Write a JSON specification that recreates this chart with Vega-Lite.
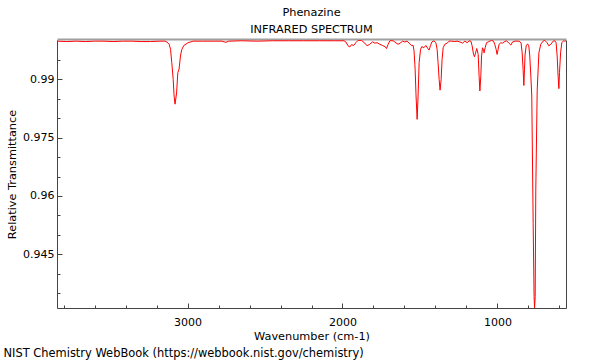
{
  "$schema": "https://vega.github.io/schema/vega-lite/v6.json",
  "width": 509,
  "height": 268,
  "autosize": "none",
  "padding": {"left": 57, "top": 40, "right": 34, "bottom": 52},
  "title": {
    "text": "Phenazine",
    "subtitle": "INFRARED SPECTRUM",
    "font": "DejaVu Sans",
    "fontSize": 11.3,
    "fontWeight": "normal",
    "color": "black",
    "subtitleFont": "DejaVu Sans",
    "subtitleFontSize": 11.3,
    "subtitleColor": "black",
    "anchor": "middle",
    "offset": 4,
    "subtitlePadding": 5
  },
  "config": {
    "view": {"stroke": null},
    "axis": {
      "labelFont": "DejaVu Sans",
      "labelFontSize": 11,
      "labelColor": "black",
      "titleFont": "DejaVu Sans",
      "titleFontSize": 11.3,
      "titleFontWeight": "normal",
      "titleColor": "black",
      "domainColor": "#444",
      "tickColor": "#444",
      "grid": false
    }
  },
  "data": {
    "values": [
      {"wn": 3843, "t": 0.9998}, {"wn": 3780, "t": 0.9997}, {"wn": 3720, "t": 0.9998}, {"wn": 3660, "t": 0.9997},
      {"wn": 3600, "t": 0.9998}, {"wn": 3540, "t": 0.9998}, {"wn": 3480, "t": 0.9997}, {"wn": 3420, "t": 0.9998},
      {"wn": 3360, "t": 0.9998}, {"wn": 3300, "t": 0.9997}, {"wn": 3240, "t": 0.9997}, {"wn": 3179, "t": 0.9998},
      {"wn": 3147, "t": 0.9998}, {"wn": 3134, "t": 0.9996}, {"wn": 3119, "t": 0.9990}, {"wn": 3110, "t": 0.9977},
      {"wn": 3102, "t": 0.9943}, {"wn": 3093, "t": 0.9900}, {"wn": 3087, "t": 0.9857}, {"wn": 3081, "t": 0.9836},
      {"wn": 3071, "t": 0.9865}, {"wn": 3063, "t": 0.9917}, {"wn": 3055, "t": 0.9926}, {"wn": 3046, "t": 0.9960},
      {"wn": 3037, "t": 0.9977}, {"wn": 3024, "t": 0.9987}, {"wn": 2997, "t": 0.9994}, {"wn": 2964, "t": 0.9998},
      {"wn": 2902, "t": 0.9998}, {"wn": 2824, "t": 0.9998}, {"wn": 2779, "t": 0.9998}, {"wn": 2753, "t": 0.9995},
      {"wn": 2734, "t": 0.9998}, {"wn": 2650, "t": 0.9999}, {"wn": 2550, "t": 0.9998}, {"wn": 2450, "t": 0.9999},
      {"wn": 2350, "t": 0.9999}, {"wn": 2250, "t": 0.9999}, {"wn": 2150, "t": 0.9999}, {"wn": 2050, "t": 0.9999},
      {"wn": 1990, "t": 0.9999}, {"wn": 1978, "t": 0.9996}, {"wn": 1964, "t": 0.9986}, {"wn": 1953, "t": 0.9983},
      {"wn": 1942, "t": 0.9989}, {"wn": 1927, "t": 0.9987}, {"wn": 1914, "t": 0.9994}, {"wn": 1899, "t": 1.0000},
      {"wn": 1877, "t": 1.0000}, {"wn": 1856, "t": 0.9993}, {"wn": 1841, "t": 0.9986}, {"wn": 1824, "t": 0.9990},
      {"wn": 1806, "t": 0.9996}, {"wn": 1791, "t": 0.9993}, {"wn": 1776, "t": 0.9994}, {"wn": 1759, "t": 0.9990},
      {"wn": 1742, "t": 0.9987}, {"wn": 1725, "t": 0.9984}, {"wn": 1716, "t": 0.9979}, {"wn": 1705, "t": 0.9990},
      {"wn": 1694, "t": 0.9999}, {"wn": 1673, "t": 0.9999}, {"wn": 1656, "t": 0.9994}, {"wn": 1641, "t": 0.9990},
      {"wn": 1628, "t": 0.9993}, {"wn": 1612, "t": 0.9998}, {"wn": 1598, "t": 0.9996}, {"wn": 1583, "t": 0.9998},
      {"wn": 1570, "t": 0.9993}, {"wn": 1554, "t": 0.9987}, {"wn": 1544, "t": 0.9987}, {"wn": 1538, "t": 0.9973},
      {"wn": 1531, "t": 0.9926}, {"wn": 1525, "t": 0.9857}, {"wn": 1518, "t": 0.9797}, {"wn": 1512, "t": 0.9857},
      {"wn": 1505, "t": 0.9943}, {"wn": 1496, "t": 0.9977}, {"wn": 1488, "t": 0.9984}, {"wn": 1475, "t": 0.9981},
      {"wn": 1462, "t": 0.9987}, {"wn": 1449, "t": 0.9979}, {"wn": 1441, "t": 0.9975}, {"wn": 1432, "t": 0.9986},
      {"wn": 1423, "t": 0.9996}, {"wn": 1410, "t": 0.9999}, {"wn": 1397, "t": 0.9994}, {"wn": 1389, "t": 0.9977},
      {"wn": 1383, "t": 0.9943}, {"wn": 1376, "t": 0.9900}, {"wn": 1370, "t": 0.9872}, {"wn": 1363, "t": 0.9900},
      {"wn": 1357, "t": 0.9951}, {"wn": 1350, "t": 0.9981}, {"wn": 1339, "t": 0.9990}, {"wn": 1324, "t": 0.9993},
      {"wn": 1312, "t": 0.9998}, {"wn": 1296, "t": 0.9998}, {"wn": 1275, "t": 0.9997}, {"wn": 1260, "t": 0.9998},
      {"wn": 1242, "t": 0.9996}, {"wn": 1225, "t": 0.9993}, {"wn": 1210, "t": 0.9998}, {"wn": 1195, "t": 0.9994},
      {"wn": 1182, "t": 0.9999}, {"wn": 1171, "t": 0.9998}, {"wn": 1163, "t": 0.9986}, {"wn": 1154, "t": 0.9964},
      {"wn": 1148, "t": 0.9958}, {"wn": 1141, "t": 0.9968}, {"wn": 1133, "t": 0.9979}, {"wn": 1124, "t": 0.9964},
      {"wn": 1118, "t": 0.9908}, {"wn": 1113, "t": 0.9870}, {"wn": 1107, "t": 0.9908}, {"wn": 1102, "t": 0.9960},
      {"wn": 1096, "t": 0.9981}, {"wn": 1089, "t": 0.9975}, {"wn": 1086, "t": 0.9968}, {"wn": 1079, "t": 0.9981},
      {"wn": 1070, "t": 0.9994}, {"wn": 1060, "t": 0.9996}, {"wn": 1049, "t": 0.9998}, {"wn": 1038, "t": 1.0000},
      {"wn": 1025, "t": 0.9998}, {"wn": 1017, "t": 0.9990}, {"wn": 1008, "t": 0.9977}, {"wn": 1002, "t": 0.9964},
      {"wn": 995, "t": 0.9977}, {"wn": 989, "t": 0.9990}, {"wn": 978, "t": 0.9994}, {"wn": 967, "t": 0.9993},
      {"wn": 957, "t": 0.9996}, {"wn": 941, "t": 0.9999}, {"wn": 926, "t": 0.9993}, {"wn": 913, "t": 0.9988},
      {"wn": 902, "t": 0.9996}, {"wn": 887, "t": 0.9998}, {"wn": 866, "t": 0.9998}, {"wn": 855, "t": 0.9997},
      {"wn": 847, "t": 0.9993}, {"wn": 840, "t": 0.9968}, {"wn": 834, "t": 0.9926}, {"wn": 829, "t": 0.9884},
      {"wn": 825, "t": 0.9926}, {"wn": 821, "t": 0.9964}, {"wn": 814, "t": 0.9986}, {"wn": 805, "t": 0.9991},
      {"wn": 797, "t": 0.9986}, {"wn": 791, "t": 0.9960}, {"wn": 784, "t": 0.9908}, {"wn": 778, "t": 0.9857},
      {"wn": 769, "t": 0.9530}, {"wn": 763, "t": 0.9341}, {"wn": 760, "t": 0.9312}, {"wn": 756, "t": 0.9341},
      {"wn": 752, "t": 0.9615}, {"wn": 743, "t": 0.9872}, {"wn": 732, "t": 0.9968}, {"wn": 720, "t": 0.9990},
      {"wn": 705, "t": 0.9998}, {"wn": 694, "t": 1.0000}, {"wn": 679, "t": 0.9994}, {"wn": 668, "t": 0.9986},
      {"wn": 655, "t": 0.9990}, {"wn": 640, "t": 0.9998}, {"wn": 629, "t": 0.9999}, {"wn": 621, "t": 0.9994},
      {"wn": 614, "t": 0.9960}, {"wn": 608, "t": 0.9908}, {"wn": 603, "t": 0.9876}, {"wn": 599, "t": 0.9917},
      {"wn": 592, "t": 0.9968}, {"wn": 584, "t": 0.9994}, {"wn": 573, "t": 0.9999}, {"wn": 565, "t": 0.9998},
      {"wn": 557, "t": 0.9999}
    ]
  },
  "layer": [
    {
      "mark": {"type": "line", "color": "#ff0000", "strokeWidth": 1, "clip": true},
      "encoding": {
        "x": {
          "field": "wn", "type": "quantitative",
          "scale": {"domain": [557, 3843], "reverse": true, "nice": false, "zero": false},
          "axis": {"orient": "bottom", "values": [1000, 2000, 3000], "format": "d", "tickSize": -5, "labelPadding": 13, "title": "Wavenumber (cm-1)", "titlePadding": 3}
        },
        "y": {
          "field": "t", "type": "quantitative",
          "scale": {"domain": [0.9312, 1.0001], "nice": false, "zero": false},
          "axis": {"orient": "left", "values": [0.945, 0.96, 0.975, 0.99], "format": ".3~f", "tickSize": -5, "labelPadding": 8, "title": "Relative Transmittance", "titlePadding": 5}
        }
      }
    },
    {
      "mark": {"type": "line", "opacity": 0},
      "encoding": {
        "x": {
          "field": "wn", "type": "quantitative",
          "axis": {"orient": "bottom", "values": [600, 800, 1200, 1400, 1600, 1800, 2200, 2400, 2600, 2800, 3200, 3400, 3600, 3800], "tickSize": -3, "labels": false, "domain": false, "title": null}
        },
        "y": {
          "field": "t", "type": "quantitative",
          "axis": {"orient": "left", "values": [0.935, 0.94, 0.95, 0.955, 0.965, 0.97, 0.98, 0.985, 0.995], "tickSize": -3, "labels": false, "domain": false,
            "title": "NIST Chemistry WebBook (https://webbook.nist.gov/chemistry)",
            "titleFontSize": 11.45,
            "titleAngle": 0, "titleAlign": "left", "titleBaseline": "alphabetic", "titleX": -54, "titleY": 316}
        }
      }
    },
    {
      "mark": {"type": "line", "opacity": 0},
      "encoding": {
        "x": {
          "field": "wn", "type": "quantitative",
          "axis": {"orient": "top", "ticks": false, "labels": false, "title": null, "domainColor": "#a0a0a0", "domainWidth": 2, "offset": 1}
        },
        "y": {
          "field": "t", "type": "quantitative",
          "axis": {"orient": "right", "ticks": false, "labels": false, "title": null, "domainColor": "#444"}
        }
      }
    }
  ],
  "resolve": {"axis": {"x": "independent", "y": "independent"}}
}
